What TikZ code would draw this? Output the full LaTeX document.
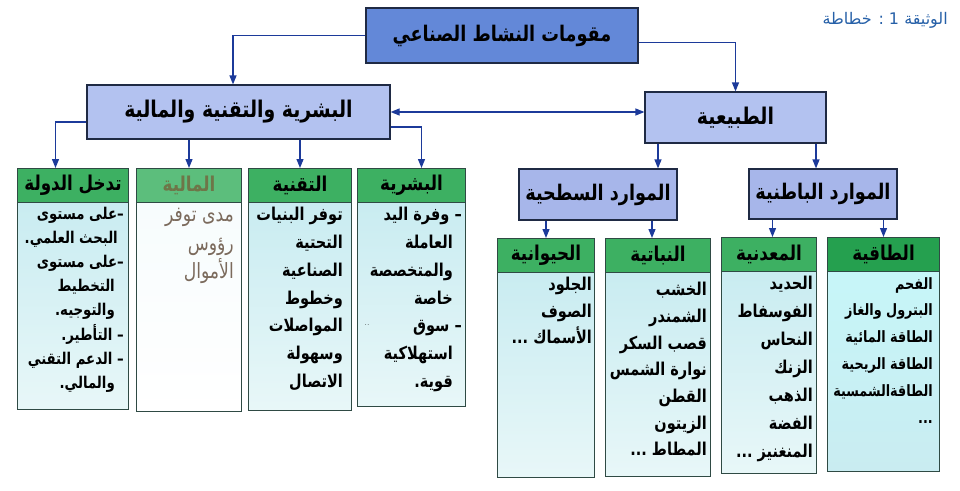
\documentclass[tikz,border=0pt]{standalone}
\usepackage{fontspec}
\usetikzlibrary{arrows.meta,calc}
\TeXXeTstate=1
\newfontfamily\arabicfont[Script=Arabic, FakeStretch=0.82]{DejaVu Sans}
\newfontfamily\arabicplain[Script=Arabic]{DejaVu Sans}
\definecolor{topblue}{HTML}{6388D8}
\definecolor{midblue}{HTML}{B3C2F0}
\definecolor{subblue}{HTML}{A7B6EA}
\definecolor{boxline}{HTML}{1F2A44}
\definecolor{arrblue}{HTML}{1C3A9A}
\definecolor{hdrgreen}{HTML}{3DB062}
\definecolor{hdrgreendk}{HTML}{25A04F}
\definecolor{hdrgreenlt}{HTML}{5CBE7C}
\definecolor{bodytop}{HTML}{C9ECF1}
\definecolor{bodybot}{HTML}{E8F7F8}
\definecolor{colline}{HTML}{2F4A44}
\definecolor{labelblue}{HTML}{2660A8}
\definecolor{faint}{HTML}{7B6A5C}
\definecolor{fainthdr}{HTML}{6E7648}
\newcommand\ar[1]{\beginR #1\endR}
\newcommand\ind{\kern9pt}
\tikzset{
  topbox/.style={draw=boxline, line width=1.2pt, fill=topblue, inner sep=0pt,
    font=\arabicfont\bfseries\fontsize{21.5}{24}\selectfont},
  midbox/.style={draw=boxline, line width=1.2pt, fill=midblue, inner sep=0pt,
    font=\arabicfont\bfseries\fontsize{23}{26}\selectfont},
  subbox/.style={midbox, fill=subblue, font=\arabicfont\bfseries\fontsize{21.5}{24}\selectfont},
  hdr/.style={draw=colline, line width=1pt, fill=hdrgreen, inner sep=0pt,
    minimum height=34pt, anchor=north west,
    font=\arabicfont\bfseries\fontsize{20.4}{22}\selectfont},
  colbody/.style={draw=colline, line width=1pt, top color=bodytop,
    bottom color=bodybot, inner sep=0pt, anchor=north west},
  btext/.style={anchor=north east, align=right, inner sep=0pt,
    font=\arabicfont\bfseries\fontsize{17.7}{#1}\selectfont},
  btext/.default=26,
  link/.style={draw=arrblue, line width=1.2pt},
  arr/.style={link, -{Triangle[length=9pt,width=7pt]}},
  darr/.style={link, {Triangle[length=9pt,width=7pt]}-{Triangle[length=9pt,width=7pt]}},
}
\begin{document}
\begin{tikzpicture}[x=1pt,y=-1pt]
\useasboundingbox[fill=white] (0,0) rectangle (960,490);

% label
\node[anchor=east, text=labelblue, inner sep=0pt,
  font=\arabicplain\fontsize{16}{18}\selectfont] (lbl) at (948,20) {\ar{الوثيقة 1 : خطاطة}};

% top level
\node[topbox, minimum width=272pt, minimum height=55pt] (top) at (502,35.5) {\ar{مقومات النشاط الصناعي}};
\node[midbox, minimum width=303pt, minimum height=54pt] (btm) at (238.5,112) {\ar{البشرية والتقنية والمالية}};
\node[midbox, minimum width=181pt, minimum height=51pt] (tab) at (735.5,117.5) {\ar{الطبيعية}};
\node[subbox, minimum width=158pt, minimum height=51pt] (sur) at (598,194.5) {\ar{الموارد السطحية}};
\node[subbox, minimum width=148pt, minimum height=50pt] (bat) at (823,194) {\ar{الموارد الباطنية}};

% left columns
\node[hdr, minimum width=111pt] (h1) at (17,168) {\ar{تدخل الدولة}};
\node[colbody, minimum width=111pt, minimum height=207pt] (b1) at (17,202) {};
\node[hdr, minimum width=105pt, fill=hdrgreenlt, text=fainthdr] (h2) at (136,168) {\ar{المالية}};
\node[colbody, minimum width=105pt, minimum height=209pt, top color=white!85!bodytop, bottom color=white] (b2) at (136,202) {};
\node[hdr, minimum width=103pt] (h3) at (248,168) {\ar{التقنية}};
\node[colbody, minimum width=103pt, minimum height=208pt] (b3) at (248,202) {};
\node[hdr, minimum width=108pt] (h4) at (357,168) {\ar{البشرية}};
\node[colbody, minimum width=108pt, minimum height=204pt] (b4) at (357,202) {};

% right columns
\node[hdr, minimum width=97pt] (h5) at (497,238) {\ar{الحيوانية}};
\node[colbody, minimum width=97pt, minimum height=205pt] (b5) at (497,272) {};
\node[hdr, minimum width=105pt] (h6) at (605,238) {\ar{النباتية}};
\node[colbody, minimum width=105pt, minimum height=204pt] (b6) at (605,272) {};
\node[hdr, minimum width=95pt] (h7) at (721,237) {\ar{المعدنية}};
\node[colbody, minimum width=95pt, minimum height=202pt] (b7) at (721,271) {};
\node[hdr, minimum width=112pt, fill=hdrgreendk] (h8) at (827,237) {\ar{الطاقية}};
\node[colbody, minimum width=112pt, minimum height=200pt, top color=bodytop!80!cyan!60!white, bottom color=bodytop] (b8) at (827,271) {};

% texts
\node[btext=24.1, font=\arabicfont\bfseries\fontsize{16.2}{24.1}\selectfont] (t1) at ([xshift=-5pt,yshift=-5pt]b1.north east)
 {\ar{–على مستوى}\\ \ar{\kern6pt البحث العلمي.}\\ \ar{–على مستوى}\\ \ar{\ind التخطيط}\\
  \ar{\ind والتوجيه.}\\ \ar{– التأطير.}\\ \ar{– الدعم التقني}\\ \ar{\ind والمالي.}};
\node[anchor=north east, align=right, inner sep=0pt, text=faint,
  font=\arabicfont\fontsize{21}{28.5}\selectfont] (t2) at ([xshift=-8pt,yshift=-6pt]b2.north east)
 {\ar{مدى توفر}\\ \ar{رؤوس}\\ \ar{الأموال}};
\node[btext=27.8] (t3) at ([xshift=-9pt,yshift=-5pt]b3.north east)
 {\ar{توفر البنيات}\\ \ar{التحتية}\\ \ar{الصناعية}\\ \ar{وخطوط}\\ \ar{المواصلات}\\ \ar{وسهولة}\\ \ar{الاتصال}};
\node[btext=27.8] (t4) at ([xshift=-4pt,yshift=-5pt]b4.north east)
 {\ar{– وفرة اليد}\\ \ar{\ind العاملة}\\ \ar{\ind والمتخصصة}\\ \ar{\ind خاصة}\\ \ar{– سوق}\\ \ar{\ind استهلاكية}\\ \ar{\ind قوية.}};
\node[inner sep=0pt, font=\fontsize{8}{8}\selectfont] (dots) at (367,325) {..};
\node[btext=26.5] (t5) at ([xshift=-3pt,yshift=-5pt]b5.north east)
 {\ar{الجلود}\\ \ar{الصوف}\\ \ar{الأسماك ...}};
\node[btext=26.7] (t6) at ([xshift=-4pt,yshift=-10pt]b6.north east)
 {\ar{الخشب}\\ \ar{الشمندر}\\ \ar{قصب السكر}\\ \ar{نوارة الشمس}\\ \ar{القطن}\\ \ar{الزيتون}\\ \ar{المطاط ...}};
\node[btext=28] (t7) at ([xshift=-4pt,yshift=-5pt]b7.north east)
 {\ar{الحديد}\\ \ar{الفوسفاط}\\ \ar{النحاس}\\ \ar{الزنك}\\ \ar{الذهب}\\ \ar{الفضة}\\ \ar{المنغنيز ...}};
\node[btext=26.8, font=\arabicfont\bfseries\fontsize{15.6}{26.8}\selectfont] (t8) at ([xshift=-7pt,yshift=-6pt]b8.north east)
 {\ar{الفحم}\\ \ar{البترول والغاز}\\ \ar{الطاقة المائية}\\ \ar{الطاقة الريحية}\\ \ar{الطاقةالشمسية}\\ \ar{...}};

% connectors
\draw[arr] (top.west) -| ([xshift=-5.5pt]btm.north);
\draw[arr] ([yshift=-7pt]top.east) -| (tab.north);
\draw[darr] (btm.east) -- (btm.east -| tab.west);
\draw[arr] ([yshift=-10pt]btm.west) -| ([xshift=-17.5pt]h1.north);
\draw[arr] (h2.north |- btm.south) -- (h2.north);
\draw[arr] (h3.north |- btm.south) -- (h3.north);
\draw[arr] ([yshift=-15pt]btm.east) -| ([xshift=10pt]h4.north);
\draw[arr] ([xshift=60pt]sur.north |- tab.south) -- ([xshift=60pt]sur.north);
\draw[arr] ([xshift=-7pt]bat.north |- tab.south) -- ([xshift=-7pt]bat.north);
\draw[arr] (h5.north |- sur.south) -- (h5.north);
\draw[arr] ([xshift=-6pt]h6.north |- sur.south) -- ([xshift=-6pt]h6.north);
\draw[arr] ([xshift=3.5pt]h7.north |- bat.south) -- ([xshift=3.5pt]h7.north);
\draw[arr] (h8.north |- bat.south) -- (h8.north);
\end{tikzpicture}
\end{document}
